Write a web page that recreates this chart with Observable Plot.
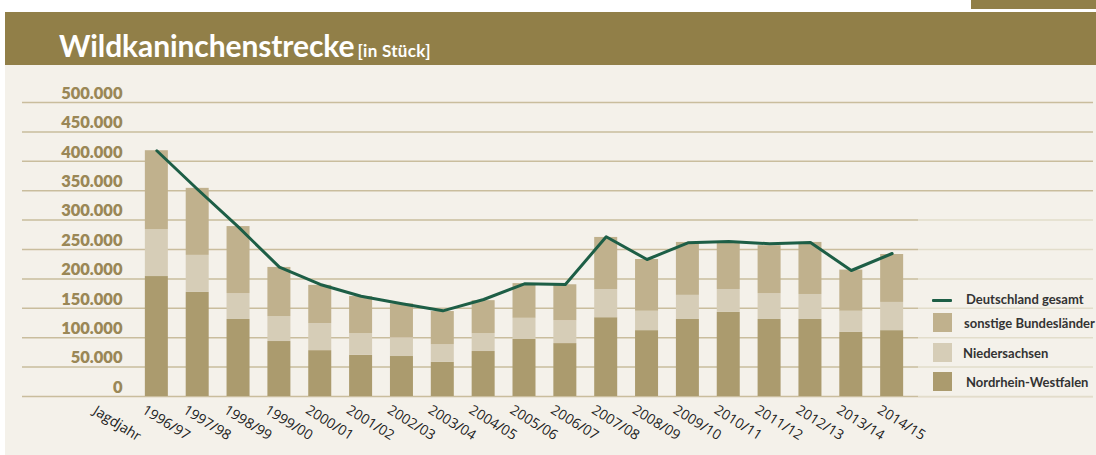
<!DOCTYPE html>
<html><head><meta charset="utf-8">
<script src="https://cdn.jsdelivr.net/npm/d3@7"></script>
<script src="https://cdn.jsdelivr.net/npm/@observablehq/plot@0.6"></script>
<style>
html,body{margin:0;padding:0;background:#fff;}
#wrap{position:relative;width:1096px;height:455px;overflow:hidden;background:#fff;font-family:Lato,"Open Sans",sans-serif;}
#topband{position:absolute;left:971px;top:0;width:125px;height:9px;background:#917f48;}
#header{position:absolute;left:5px;top:12px;width:1091px;height:53px;background:#917f48;}
#panel{position:absolute;left:5px;top:65px;width:1091px;height:390px;background:#f4f1ea;}
#title{position:absolute;left:59px;top:30px;color:#fff;font:700 30px/30px Lato;white-space:nowrap;letter-spacing:-0.1px;}
#title span{font-size:17px;margin-left:3px;letter-spacing:0.3px;}
#chart{position:absolute;left:0;top:65px;}
#legendbg{position:absolute;left:918px;top:205px;width:175px;height:192px;background:rgba(244,241,234,0.6);}
.sw{position:absolute;}
.lt{position:absolute;height:16px;line-height:16px;font:700 13px/16px Lato;color:#333;white-space:nowrap;}
</style></head>
<body>
<div id="wrap">
  <div id="topband"></div>
  <div id="header"></div>
  <div id="panel"></div>
  <div id="title"></div>
  <div id="chart"></div>
  <div id="legendbg"></div>
  <div id="legend"></div>
</div>
<script>
const titleText = "Wildkaninchenstrecke";
const unitText = "[in Stück]";
const xTitle = "Jagdjahr";
const categories = ["1996/97","1997/98","1998/99","1999/00","2000/01","2001/02","2002/03","2003/04","2004/05","2005/06","2006/07","2007/08","2008/09","2009/10","2010/11","2011/12","2012/13","2013/14","2014/15"];
const nrw   = [204000,177000,131000,93500,78000,70000,68000,58000,76500,97000,90000,134000,112000,131000,143000,131000,131000,109000,112000];
const ni    = [80000,63000,44000,42500,46000,37000,32000,30000,30500,36000,39000,48000,33000,41000,39000,44000,42500,36000,48000];
const sonst = [134000,114000,114000,83500,65000,63000,57500,56500,56000,59000,61000,88500,88000,90000,80500,81500,88500,70000,81500];
const gesamt = [418000,352000,288000,220000,190500,170500,157600,145700,165000,191600,190500,271600,233000,261400,263600,259700,261900,214300,243200];
const seriesNames = ["Nordrhein-Westfalen","Niedersachsen","sonstige Bundesländer"];
const seriesColors = ["#ab9b6e","#d6cdb7","#c0b18d"];
const lineName = "Deutschland gesamt";
const lineColor = "#1d5e46";
const yTicks = [0,50000,100000,150000,200000,250000,300000,350000,400000,450000,500000];

document.getElementById("title").innerHTML = titleText + "<span>" + unitText + "</span>";

const seriesValues = [nrw, ni, sonst];
const rows = [];
categories.forEach((c, i) => {
  seriesNames.forEach((s, k) => rows.push({jahr: c, serie: s, wert: seriesValues[k][i]}));
});
const lineRows = categories.map((c, i) => ({jahr: c, wert: gesamt[i]}));
const de = d3.formatLocale({decimal: ",", thousands: ".", grouping: [3], currency: ["", "€"]}).format(",d");

const chart = Plot.plot({
  width: 1096, height: 390,
  marginLeft: 22, marginRight: 3, marginTop: 37, marginBottom: 59,
  style: {background: "transparent", fontFamily: "Lato"},
  x: {domain: categories, range: [127, 921], padding: 0.437, round: false, axis: null},
  y: {domain: [0, 500000], axis: null},
  color: {domain: seriesNames, range: seriesColors},
  marks: [
    Plot.gridY(yTicks, {stroke: "#c9bd9d", strokeOpacity: 1, strokeWidth: 1.5}),
    Plot.barY(rows, {x: "jahr", y: "wert", fill: "serie", order: seriesNames}),
    Plot.line(lineRows, {x: "jahr", y: "wert", stroke: lineColor, strokeWidth: 3}),
    Plot.text(yTicks, {y: d => d, frameAnchor: "left", dx: 100, dy: -9, text: d => de(d), textAnchor: "end", fontSize: 16.5, fontWeight: 800, fill: "#9a8756", fontFamily: "Lato"}),
    Plot.text(categories, {x: d => d, frameAnchor: "bottom", dx: 7, dy: 30, rotate: 32, textAnchor: "middle", fontSize: 14, fill: "#222", fontFamily: "Open Sans"}),
    Plot.text([xTitle], {x: () => categories[0], frameAnchor: "bottom", dx: -42, dy: 31, rotate: 32, textAnchor: "middle", fontSize: 14, fill: "#222", fontFamily: "Open Sans"})
  ]
});
document.getElementById("chart").appendChild(chart);

// legend
const leg = document.getElementById("legend");
function add(html){ leg.insertAdjacentHTML("beforeend", html); }
add(`<div class="sw" style="left:932px;top:298.5px;width:20px;height:3px;background:${lineColor};border-radius:1px"></div>`);
add(`<div class="lt" style="left:966px;top:291px">${lineName}</div>`);
const legendRows = [
  {name: seriesNames[2], color: seriesColors[2], top: 313, tx: 964},
  {name: seriesNames[1], color: seriesColors[1], top: 343, tx: 963},
  {name: seriesNames[0], color: seriesColors[0], top: 372, tx: 966}
];
legendRows.forEach(r => {
  add(`<div class="sw" style="left:933px;top:${r.top}px;width:19px;height:19px;background:${r.color}"></div>`);
  add(`<div class="lt" style="left:${r.tx}px;top:${r.top + 2}px">${r.name}</div>`);
});
</script>
</body></html>
